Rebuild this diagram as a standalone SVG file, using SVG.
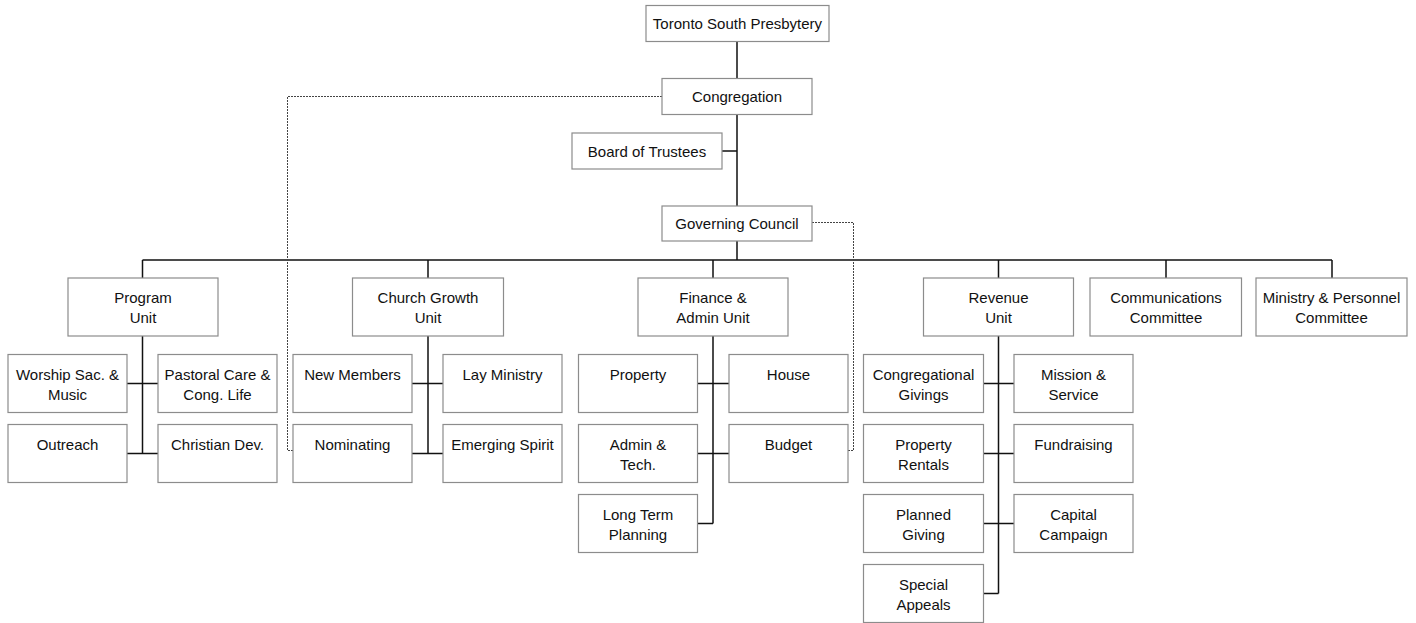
<svg xmlns="http://www.w3.org/2000/svg" width="1416" height="623" viewBox="0 0 1416 623">
<style>
rect{fill:#fff;stroke:#8c8c8c;stroke-width:1.2}
text{font-family:"Liberation Sans",Arial,sans-serif;font-size:15px;fill:#111;text-anchor:middle}
.c{fill:none;stroke:#111;stroke-width:1.5}
.d{fill:none;stroke:#444;stroke-width:1;stroke-dasharray:2,1}
</style>
<rect x="0" y="0" width="1416" height="623" style="fill:#fff;stroke:none"/>
<g id="connectors">
<path class="c" d="M737 42V78M737 114V206M722 151H737M737 241V260M142.5 260H1332M142.5 260V278M428 260V278M713 260V278M998.5 260V278M1166 260V278M1332 260V278"/>
<path class="c" d="M142.5 336V453.5M127 383.5H158M127 453.5H158"/>
<path class="c" d="M428 336V453.5M412 383.5H443M412 453.5H443"/>
<path class="c" d="M713 336V523.5M698 383.5H729M698 453.5H729M698 523.5H713"/>
<path class="c" d="M998.5 336V593.5M983 383.5H1014M983 453.5H1014M983 523.5H1014M983 593.5H998.5"/>
<path class="d" d="M662 96.5H287.5V450.5H293"/>
<path class="d" d="M812 222.5H853.5V450.5H848"/>
</g>
<g id="n-tsp"><rect x="646" y="5.5" width="183" height="36"/><text x="737.5" y="29">Toronto South Presbytery</text></g>
<g id="n-congregation"><rect x="662" y="78.5" width="150" height="36"/><text x="737" y="102">Congregation</text></g>
<g id="n-trustees"><rect x="572" y="133" width="150" height="36"/><text x="647" y="156.5">Board of Trustees</text></g>
<g id="n-council"><rect x="662" y="206" width="150" height="35"/><text x="737" y="229">Governing Council</text></g>

<g id="n-program"><rect x="68" y="278" width="150" height="58"/><text x="143" y="303">Program</text><text x="143" y="323">Unit</text></g>
<g id="n-worship"><rect x="8" y="354.5" width="119" height="58"/><text x="67.5" y="380">Worship Sac. &amp;</text><text x="67.5" y="400">Music</text></g>
<g id="n-pastoral"><rect x="158" y="354.5" width="119" height="58"/><text x="217.5" y="380">Pastoral Care &amp;</text><text x="217.5" y="400">Cong. Life</text></g>
<g id="n-outreach"><rect x="8" y="424.5" width="119" height="58"/><text x="67.5" y="450">Outreach</text></g>
<g id="n-christian"><rect x="158" y="424.5" width="119" height="58"/><text x="217.5" y="450">Christian Dev.</text></g>

<g id="n-growth"><rect x="352.5" y="278" width="151" height="58"/><text x="428" y="303">Church Growth</text><text x="428" y="323">Unit</text></g>
<g id="n-newmembers"><rect x="293" y="354.5" width="119" height="58"/><text x="352.5" y="380">New Members</text></g>
<g id="n-lay"><rect x="443" y="354.5" width="119" height="58"/><text x="502.5" y="380">Lay Ministry</text></g>
<g id="n-nominating"><rect x="293" y="424.5" width="119" height="58"/><text x="352.5" y="450">Nominating</text></g>
<g id="n-emerging"><rect x="443" y="424.5" width="119" height="58"/><text x="502.5" y="450">Emerging Spirit</text></g>

<g id="n-finance"><rect x="638" y="278" width="150" height="58"/><text x="713" y="303">Finance &amp;</text><text x="713" y="323">Admin Unit</text></g>
<g id="n-property"><rect x="578.5" y="354.5" width="119" height="58"/><text x="638" y="380">Property</text></g>
<g id="n-house"><rect x="729" y="354.5" width="119" height="58"/><text x="788.5" y="380">House</text></g>
<g id="n-admin"><rect x="578.5" y="424.5" width="119" height="58"/><text x="638" y="450">Admin &amp;</text><text x="638" y="470">Tech.</text></g>
<g id="n-budget"><rect x="729" y="424.5" width="119" height="58"/><text x="788.5" y="450">Budget</text></g>
<g id="n-longterm"><rect x="578.5" y="494.5" width="119" height="58"/><text x="638" y="520">Long Term</text><text x="638" y="540">Planning</text></g>

<g id="n-revenue"><rect x="923.5" y="278" width="150" height="58"/><text x="998.5" y="303">Revenue</text><text x="998.5" y="323">Unit</text></g>
<g id="n-conggivings"><rect x="863.5" y="354.5" width="120" height="58"/><text x="923.5" y="380">Congregational</text><text x="923.5" y="400">Givings</text></g>
<g id="n-mission"><rect x="1014" y="354.5" width="119" height="58"/><text x="1073.5" y="380">Mission &amp;</text><text x="1073.5" y="400">Service</text></g>
<g id="n-rentals"><rect x="863.5" y="424.5" width="120" height="58"/><text x="923.5" y="450">Property</text><text x="923.5" y="470">Rentals</text></g>
<g id="n-fundraising"><rect x="1014" y="424.5" width="119" height="58"/><text x="1073.5" y="450">Fundraising</text></g>
<g id="n-planned"><rect x="863.5" y="494.5" width="120" height="58"/><text x="923.5" y="520">Planned</text><text x="923.5" y="540">Giving</text></g>
<g id="n-capital"><rect x="1014" y="494.5" width="119" height="58"/><text x="1073.5" y="520">Capital</text><text x="1073.5" y="540">Campaign</text></g>
<g id="n-special"><rect x="863.5" y="564.5" width="120" height="58"/><text x="923.5" y="590">Special</text><text x="923.5" y="610">Appeals</text></g>

<g id="n-comm"><rect x="1090" y="278" width="151.5" height="58"/><text x="1166" y="303">Communications</text><text x="1166" y="323">Committee</text></g>
<g id="n-ministry"><rect x="1256" y="278" width="151" height="58"/><text x="1331.5" y="303">Ministry &amp; Personnel</text><text x="1331.5" y="323">Committee</text></g>
</svg>
